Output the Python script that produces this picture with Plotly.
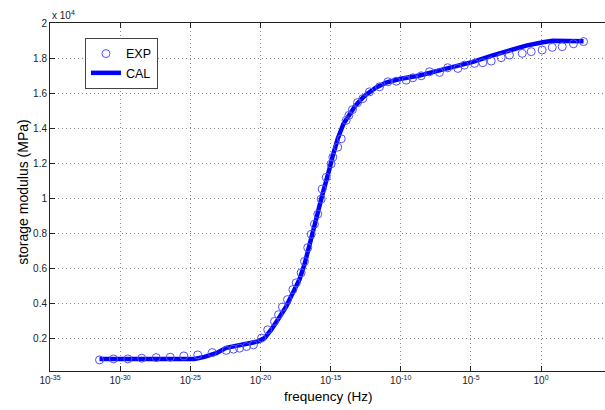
import plotly.graph_objects as go

# EXP data: log10(frequency in Hz) and storage modulus (MPa)
exp_log10_freq = [-31.47, -30.47, -29.45, -28.46, -27.43, -26.43, -25.46, -24.47, -23.44, -22.44,
                  -21.92, -21.49, -20.99, -20.50, -19.92, -19.48, -19.00, -18.71, -18.43, -18.07,
                  -17.69, -17.45, -17.10, -16.86, -16.63, -16.38, -16.15, -15.91, -15.67, -15.60,
                  -15.31, -14.96, -14.84, -14.49, -14.24, -13.89, -13.70, -13.44, -13.08, -12.70,
                  -12.23, -11.51, -10.92, -10.32, -9.61, -9.14, -8.54, -7.95, -7.24, -6.65,
                  -5.93, -5.46, -4.74, -4.15, -3.55, -2.84, -2.25, -1.34, -0.70, 0.08,
                  0.80, 1.51, 2.31, 3.03]
exp_modulus = [763, 821, 821, 861, 895, 918, 993, 1050, 1182, 1308,
               1377, 1435, 1527, 1624, 2009, 2485, 2961, 3346, 3788, 4207,
               4781, 5165, 5739, 6388, 7174, 7937, 8511, 9085, 9946, 10520,
               11191, 11954, 12339, 12913, 13389, 14439, 14726, 15053, 15455, 15685,
               16069, 16356, 16643, 16677, 16735, 16873, 16987, 17217, 17177, 17447,
               17406, 17596, 17693, 17734, 17825, 18020, 18170, 18267, 18365, 18457,
               18612, 18652, 18812, 18939]

# CAL curve
cal_log10_freq = [-31.47, -24.70, -23.99, -23.15, -22.44, -21.49, -20.19, -19.71, -19.23, -18.76,
                  -18.16, -17.69, -17.22, -16.86, -16.38, -16.03, -15.67, -15.31, -15.08, -14.84,
                  -14.49, -14.08, -13.65, -13.23, -12.70, -12.46, -11.75, -11.04, -10.09, -8.66,
                  -7.24, -5.81, -4.86, -3.44, -2.25, -1.06, 0.13, 0.84, 3.03]
cal_modulus = [821, 821, 935, 1148, 1452, 1595, 1814, 2009, 2485, 3059,
               3822, 4591, 5354, 6215, 7839, 8798, 9946, 10904, 11667, 12431,
               13389, 14250, 14824, 15283, 15742, 15914, 16316, 16603, 16804, 17005,
               17292, 17578, 17779, 18153, 18439, 18709, 18899, 18985, 18960]

x_tick_exponents = [-35, -30, -25, -20, -15, -10, -5, 0]
y_tick_values = [2000, 4000, 6000, 8000, 10000, 12000, 14000, 16000, 18000, 20000]
y_tick_labels = ["0.2", "0.4", "0.6", "0.8", "1", "1.2", "1.4", "1.6", "1.8", "2"]

exp_freq = [10 ** v for v in exp_log10_freq]
cal_freq = [10 ** v for v in cal_log10_freq]

fig = go.Figure()
fig.add_trace(go.Scatter(
    x=cal_freq, y=cal_modulus, mode="lines", name="CAL", legendrank=2,
    line=dict(color="rgb(0,0,255)", width=4.5)))
fig.add_trace(go.Scatter(
    x=exp_freq, y=exp_modulus, mode="markers", name="EXP", legendrank=1,
    marker=dict(symbol="circle-open", size=8, color="rgb(80,80,255)",
                line=dict(width=1, color="rgb(80,80,255)"))))

font_family = "Liberation Sans, Arial, sans-serif"
grid_dash = "1px,3px"

fig.update_xaxes(
    type="log", range=[-35, 4.56],
    tickvals=[10 ** e for e in x_tick_exponents],
    ticktext=["10<sup>%d</sup>" % e for e in x_tick_exponents],
    ticks="inside", ticklen=5, tickcolor="#222", tickwidth=1,
    showline=True, linecolor="#222", linewidth=1, mirror="ticks",
    showgrid=True, gridcolor="#888", griddash=grid_dash, gridwidth=1,
    zeroline=False,
    tickfont=dict(family=font_family, size=10, color="#222"),
)
fig.update_yaxes(
    range=[131, 20000],
    tickvals=y_tick_values, ticktext=y_tick_labels,
    ticks="inside", ticklen=5, tickcolor="#222", tickwidth=1,
    showline=True, linecolor="#222", linewidth=1,
    showgrid=True, gridcolor="#888", griddash=grid_dash, gridwidth=1,
    zeroline=False,
    tickfont=dict(family=font_family, size=10, color="#222"),
)

fig.update_layout(
    width=605, height=410,
    margin=dict(l=50, r=0, t=23, b=39),
    paper_bgcolor="white", plot_bgcolor="white",
    font=dict(family=font_family, color="#111"),
    showlegend=True,
    legend=dict(x=0.063, y=0.957, xanchor="left", yanchor="top",
                bgcolor="white", bordercolor="#444", borderwidth=1,
                font=dict(family=font_family, size=12.5, color="#000"),
                tracegroupgap=0),
    annotations=[
        dict(text="frequency (Hz)", xref="paper", yref="paper", x=0.502, y=-0.0747,
             xanchor="center", yanchor="middle", showarrow=False,
             font=dict(family=font_family, size=13.5, color="#000")),
        dict(text="storage modulus (MPa)", xref="paper", yref="paper", x=-0.0486, y=0.515,
             xanchor="center", yanchor="middle", textangle=-90, showarrow=False,
             font=dict(family=font_family, size=14, color="#000")),
        dict(text="x 10<sup>4</sup>", xref="paper", yref="paper", x=0.0, y=1.023,
             xanchor="left", yanchor="middle", showarrow=False,
             font=dict(family=font_family, size=10, color="#222")),
    ],
)

fig.write_html("out.html", config={"displayModeBar": False},
               post_script="document.body.style.margin='0';document.body.style.padding='0';")
